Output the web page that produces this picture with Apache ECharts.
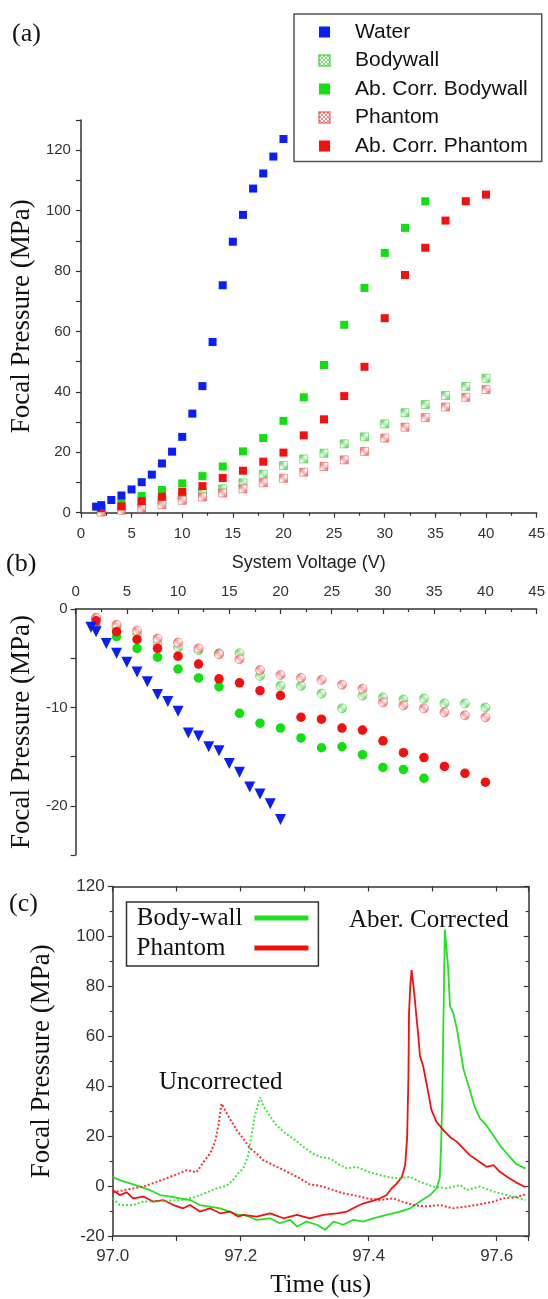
<!DOCTYPE html>
<html>
<head>
<meta charset="utf-8">
<script src="https://cdn.jsdelivr.net/npm/echarts@6/dist/echarts.min.js"></script>
<style>
  html, body { margin: 0; padding: 0; background: #fff; }
  #main { width: 548px; height: 1299px; }
</style>
</head>
<body>
<div id="main"></div>
<script>
const SANS = "'Liberation Sans', Arial, sans-serif"
const SERIF = "'Liberation Serif', 'Times New Roman', serif"

// ---- panel (a): positive focal pressure vs system voltage ----
const voltWater = [1.5, 2, 3, 4, 5, 6, 7, 8, 9, 10, 11, 12, 13, 14, 15, 16, 17, 18, 19, 20]
const voltSteps = [2, 4, 6, 8, 10, 12, 14, 16, 18, 20, 22, 24, 26, 28, 30, 32, 34, 36, 38, 40]
const waterPos = [2.0, 2.5, 4.2, 5.7, 7.7, 10.1, 12.6, 16.3, 20.2, 25.1, 32.8, 41.9, 56.5, 75.3, 89.7, 98.6, 107.3, 112.3, 117.9, 123.7]
const bodywallPos = [0.8, 1.8, 3.0, 4.2, 5.5, 6.8, 7.9, 9.9, 12.8, 15.6, 17.8, 19.7, 22.8, 25.1, 29.4, 33.1, 35.8, 38.8, 41.8, 44.5]
const abBodywallPos = [1.5, 3.2, 5.5, 7.5, 9.7, 12.1, 15.3, 20.3, 24.7, 30.4, 38.2, 48.9, 62.2, 74.4, 86.0, 94.3, 103.1]
const phantomPos = [0.2, 0.8, 1.5, 2.7, 4.1, 5.2, 6.5, 7.9, 9.9, 11.4, 13.4, 15.3, 17.5, 20.3, 24.7, 28.3, 31.5, 35.0, 38.2, 40.8]
const abPhantomPos = [1.5, 2.1, 3.8, 5.3, 6.9, 8.8, 11.5, 13.9, 16.9, 19.9, 25.6, 30.9, 38.6, 48.3, 64.4, 78.7, 87.7, 96.7, 103.1, 105.3]

// ---- panel (b): negative focal pressure ----
const waterNeg = [-1.85, -2.3, -3.5, -4.5, -5.4, -6.4, -7.4, -8.7, -9.4, -10.4, -12.6, -12.9, -14.0, -14.4, -15.7, -16.6, -18.1, -18.8, -19.8, -21.4]
const bodywallNeg = [-0.9, -1.8, -2.6, -3.5, -3.9, -4.2, -4.5, -4.5, -6.8, -7.8, -7.8, -8.6, -10.1, -8.8, -9.0, -9.2, -9.1, -9.6, -9.6, -10.0]
const abBodywallNeg = [-1.8, -2.8, -4.0, -4.9, -6.1, -7.0, -7.9, -10.6, -11.6, -12.1, -13.1, -14.1, -14.0, -14.8, -16.1, -16.3, -17.2]
const phantomNeg = [-0.9, -1.6, -2.2, -3.0, -3.4, -4.0, -4.6, -5.1, -6.2, -6.7, -7.0, -7.2, -7.7, -8.1, -9.5, -9.8, -10.1, -10.5, -10.8, -11.0]
const abPhantomNeg = [-1.2, -2.3, -3.1, -4.0, -4.8, -5.6, -7.1, -7.5, -8.3, -8.8, -11.0, -11.2, -12.1, -12.3, -13.4, -14.6, -15.1, -16.0, -16.7, -17.6]

// ---- panel (c): pressure waveforms (time in us, pressure in MPa) ----
const phantomCorrT = [97.000, 97.011, 97.022, 97.032, 97.048, 97.063, 97.079, 97.095, 97.110, 97.121, 97.136, 97.152, 97.168, 97.183, 97.196, 97.204, 97.225, 97.246, 97.267, 97.288, 97.308, 97.329, 97.350, 97.366, 97.381, 97.392, 97.402, 97.418, 97.428, 97.436, 97.444, 97.452, 97.457, 97.460, 97.462, 97.463, 97.465, 97.467, 97.470, 97.474, 97.478, 97.480, 97.485, 97.493, 97.498, 97.506, 97.517, 97.527, 97.538, 97.548, 97.558, 97.569, 97.584, 97.595, 97.605, 97.616, 97.630, 97.645]
const phantomCorrP = [-1.6, -3.6, -2.5, -4.9, -4.2, -6.2, -5.6, -7.6, -8.9, -7.6, -10.2, -8.9, -10.9, -10.2, -12.2, -11.5, -12.2, -10.9, -12.9, -11.5, -12.9, -11.5, -10.9, -10.2, -8.2, -6.9, -6.2, -4.9, -3.6, -0.9, 1.1, 3.7, 8.4, 19.0, 42.9, 69.5, 80.1, 86.5, 80.1, 69.5, 58.8, 52.2, 48.2, 37.6, 30.5, 25.7, 22.3, 19.7, 17.7, 15.0, 12.4, 10.4, 7.7, 8.4, 5.7, 3.7, 1.5, -0.5]
const bodyCorrT = [97.000, 97.011, 97.027, 97.043, 97.058, 97.074, 97.090, 97.105, 97.121, 97.136, 97.152, 97.168, 97.183, 97.196, 97.204, 97.225, 97.246, 97.261, 97.277, 97.288, 97.303, 97.319, 97.332, 97.345, 97.360, 97.376, 97.392, 97.407, 97.428, 97.449, 97.465, 97.480, 97.496, 97.506, 97.511, 97.513, 97.515, 97.517, 97.519, 97.524, 97.527, 97.532, 97.538, 97.543, 97.548, 97.556, 97.566, 97.574, 97.584, 97.595, 97.605, 97.616, 97.630, 97.645]
const bodyCorrP = [3.7, 2.4, 1.1, -0.2, -1.6, -3.6, -4.2, -4.9, -5.6, -7.6, -8.2, -8.9, -10.2, -11.5, -11.5, -13.5, -12.9, -14.9, -13.5, -16.2, -14.2, -15.5, -17.5, -14.2, -15.5, -13.5, -14.2, -12.9, -11.5, -10.2, -8.9, -6.2, -3.6, -0.9, 3.1, 15.0, 35.0, 70.0, 102.7, 88.0, 72.1, 69.5, 62.8, 54.9, 46.9, 40.2, 31.5, 27.0, 24.3, 20.3, 16.3, 13.0, 9.0, 7.0]
const phantomUncT = [97.000, 97.020, 97.035, 97.048, 97.069, 97.084, 97.100, 97.116, 97.131, 97.142, 97.152, 97.160, 97.165, 97.170, 97.172, 97.183, 97.194, 97.204, 97.215, 97.225, 97.235, 97.251, 97.267, 97.288, 97.308, 97.324, 97.340, 97.360, 97.376, 97.397, 97.418, 97.438, 97.455, 97.470, 97.491, 97.511, 97.532, 97.553, 97.574, 97.595, 97.610, 97.630, 97.645]
const phantomUncP = [-2.5, -1.5, -0.8, -0.2, 1.7, 3.1, 4.7, 6.4, 5.5, 9.7, 13.0, 17.7, 24.3, 33.0, 33.6, 27.0, 22.3, 19.0, 15.0, 13.0, 10.4, 8.4, 6.4, 3.7, 0.7, 0.1, -1.2, -2.9, -3.6, -4.9, -5.6, -4.9, -6.5, -7.6, -8.2, -7.6, -8.9, -8.2, -7.3, -6.2, -4.9, -4.5, -3.3]
const bodyUncT = [97.000, 97.011, 97.032, 97.048, 97.070, 97.090, 97.110, 97.131, 97.147, 97.163, 97.178, 97.188, 97.196, 97.204, 97.212, 97.217, 97.222, 97.229, 97.231, 97.235, 97.243, 97.256, 97.267, 97.282, 97.298, 97.313, 97.324, 97.340, 97.355, 97.366, 97.381, 97.397, 97.407, 97.428, 97.444, 97.465, 97.480, 97.501, 97.522, 97.543, 97.553, 97.574, 97.595, 97.616, 97.630, 97.645]
const bodyUncP = [-4.9, -7.6, -7.6, -6.2, -6.2, -5.8, -5.6, -4.2, -2.5, -0.9, 0.1, 2.4, 5.1, 7.1, 12.4, 20.3, 28.3, 34.3, 35.6, 32.3, 29.0, 24.3, 21.7, 19.0, 15.7, 13.0, 11.7, 11.0, 8.4, 7.1, 7.7, 6.0, 5.1, 3.7, 3.1, 3.7, 1.7, -0.2, -0.9, 0.4, -1.6, -0.2, -2.2, -3.6, -4.5, -5.6]

const BLUE = '#0a1ef5'
const GREEN = '#10e010'
const RED = '#f21010'

function zip(xs, ys) {
  return ys.map((y, i) => [xs[i], y])
}

// light checkered fill for the hatched (uncorrected) markers
function hatch(rgba) {
  const c = document.createElement('canvas')
  c.width = 4
  c.height = 4
  const g = c.getContext('2d')
  g.fillStyle = '#fff'
  g.fillRect(0, 0, 4, 4)
  g.fillStyle = rgba
  g.fillRect(0, 0, 2, 2)
  g.fillRect(2, 2, 2, 2)
  return { image: c, repeat: 'repeat' }
}
const greenHatch = hatch('rgba(30,200,30,0.6)')
const redHatch = hatch('rgba(235,40,40,0.55)')

const axisLine = { onZero: false, lineStyle: { color: '#333', width: 1.5 } }
const tickStyle = { color: '#333', width: 1.2 }
const labelAB = { fontSize: 15, color: '#333', fontFamily: SANS }

function scatter(name, xi, data, symbol, size, color, border) {
  return {
    type: 'scatter', name, xAxisIndex: xi, yAxisIndex: xi, data,
    symbol, symbolSize: size,
    symbolRotate: symbol === 'triangle' ? 180 : 0,
    itemStyle: border
      ? { color, opacity: 1, borderColor: border, borderWidth: 1 }
      : { color, opacity: 1 },
    emphasis: { disabled: true }
  }
}

function wave(name, t, p, color, dotted) {
  return {
    type: 'line', name, xAxisIndex: 2, yAxisIndex: 2,
    data: zip(t, p), showSymbol: false, symbol: 'none',
    itemStyle: { color },
    lineStyle: { color, width: dotted ? 2 : 1.8, type: dotted ? [2, 2] : 'solid', opacity: dotted ? 0.85 : 1 },
    emphasis: { disabled: true }
  }
}

let chart = echarts.init(document.querySelector('#main'), null, { renderer: 'canvas' })

let option = {
  animation: false,
  backgroundColor: '#fff',
  grid: [
    { left: 73.3, top: 120, width: 465, height: 392.7 },
    { left: 73.3, top: 609, width: 465, height: 246 },
    { left: 112.7, top: 886.5, width: 416, height: 351.4 }
  ],
  xAxis: [
    {
      gridIndex: 0, type: 'value', min: 0, max: 45, interval: 5, position: 'bottom',
      axisLine, axisTick: { length: 5, lineStyle: tickStyle },
      minorTick: { show: true, splitNumber: 2, length: 3, lineStyle: tickStyle },
      splitLine: { show: false },
      axisLabel: { ...labelAB, margin: 14 },
      name: 'System Voltage (V)', nameLocation: 'middle', nameGap: 41,
      nameTextStyle: { fontSize: 18, fontFamily: SANS, color: '#222' }
    },
    {
      gridIndex: 1, type: 'value', min: 0, max: 45, interval: 5, position: 'top',
      axisLine, axisTick: { inside: true, length: 5, lineStyle: tickStyle },
      minorTick: { show: true, splitNumber: 2, length: 3, lineStyle: tickStyle },
      splitLine: { show: false },
      axisLabel: { ...labelAB, margin: 10 }
    },
    {
      gridIndex: 2, type: 'value', min: 97.0, max: 97.65, interval: 0.1, position: 'bottom',
      axisLine, axisTick: { length: 5, lineStyle: tickStyle },
      splitLine: { show: false },
      axisLabel: {
        fontSize: 17, color: '#333', fontFamily: SANS, margin: 12,
        formatter: v => (Math.round(v * 10) % 2 === 0 ? v.toFixed(1) : '')
      },
      name: 'Time (us)', nameLocation: 'middle', nameGap: 36,
      nameTextStyle: { fontSize: 26, fontFamily: SERIF, color: '#111' }
    },
    {
      gridIndex: 2, type: 'value', min: 97.0, max: 97.65, interval: 0.1, position: 'top',
      axisLine, axisTick: { inside: true, length: 5, lineStyle: tickStyle },
      splitLine: { show: false }, axisLabel: { show: false }
    }
  ],
  yAxis: [
    {
      gridIndex: 0, type: 'value', min: 0, max: 130, interval: 10,
      axisLine: { show: true, ...axisLine }, axisTick: { show: true, length: 5, lineStyle: tickStyle },
      splitLine: { show: false },
      axisLabel: { ...labelAB, margin: 10, formatter: v => (v % 20 === 0 ? v : '') },
      name: 'Focal Pressure (MPa)', nameLocation: 'middle', nameGap: 38,
      nameTextStyle: { fontSize: 27, fontFamily: SERIF, color: '#111' }
    },
    {
      gridIndex: 1, type: 'value', min: -25, max: 0, interval: 5,
      axisLine: { show: true, ...axisLine }, axisTick: { show: true, length: 5, lineStyle: tickStyle },
      splitLine: { show: false },
      axisLabel: { ...labelAB, margin: 8, formatter: v => (v % 10 === 0 ? v : '') },
      name: 'Focal Pressure (MPa)', nameLocation: 'middle', nameGap: 38,
      nameTextStyle: { fontSize: 27, fontFamily: SERIF, color: '#111' }
    },
    {
      gridIndex: 2, type: 'value', min: -20, max: 120, interval: 20,
      axisLine: { show: true, ...axisLine }, axisTick: { show: true, length: 5, lineStyle: tickStyle },
      minorTick: { show: true, splitNumber: 2, length: 3, lineStyle: tickStyle },
      splitLine: { show: false },
      axisLabel: { fontSize: 17, color: '#333', fontFamily: SANS, margin: 8 },
      name: 'Focal Pressure (MPa)', nameLocation: 'middle', nameGap: 57,
      nameTextStyle: { fontSize: 27, fontFamily: SERIF, color: '#111' }
    },
    {
      gridIndex: 2, type: 'value', min: -20, max: 120, interval: 20, position: 'right',
      axisLine: { show: true, ...axisLine }, axisTick: { show: true, inside: true, length: 5, lineStyle: tickStyle },
      minorTick: { show: true, splitNumber: 2, length: 3, lineStyle: tickStyle },
      splitLine: { show: false }, axisLabel: { show: false }
    }
  ],
  legend: [
    {
      data: ['Water', 'Bodywall', 'Ab. Corr. Bodywall', 'Phantom', 'Ab. Corr. Phantom']
        .map(name => ({ name, icon: 'rect' })),
      orient: 'vertical', left: 294, top: 14,
      padding: [7.5, 14, 5, 24], itemGap: 7.5, itemWidth: 11, itemHeight: 11,
      textStyle: { fontSize: 21, lineHeight: 21, fontFamily: SANS, color: '#111', padding: [0, 0, 0, 20] },
      borderColor: '#555', borderWidth: 1.5, backgroundColor: '#fff', selectedMode: false
    },
    {
      data: [
        { name: 'Body-wall', textStyle: { padding: [0, 7, 0, 0] } },
        { name: 'Phantom (c)', textStyle: { padding: [0, 24, 0, 0] } }
      ],
      formatter: name => name.replace(' (c)', ''),
      orient: 'vertical', left: 126.5, top: 902, align: 'right', icon: 'rect',
      padding: [3.5, 10, 5.5, 10], itemGap: 5, itemWidth: 54, itemHeight: 5,
      textStyle: { fontSize: 25, lineHeight: 25, fontFamily: SERIF, color: '#111' },
      borderColor: '#333', borderWidth: 1.5, backgroundColor: '#fff', selectedMode: false
    }
  ],
  graphic: [
    { type: 'text', left: 12, top: 21, style: { text: '(a)', font: '26px ' + SERIF, fill: '#111' } },
    { type: 'text', left: 6, top: 551, style: { text: '(b)', font: '26px ' + SERIF, fill: '#111' } },
    { type: 'text', left: 9, top: 891, style: { text: '(c)', font: '26px ' + SERIF, fill: '#111' } },
    { type: 'text', left: 349, top: 908, style: { text: 'Aber. Corrected', font: '25px ' + SERIF, fill: '#111' } },
    { type: 'text', left: 159, top: 1070, style: { text: 'Uncorrected', font: '25px ' + SERIF, fill: '#111' } }
  ],
  series: [
    // panel (a)
    scatter('Bodywall', 0, zip(voltSteps, bodywallPos), 'rect', 8, greenHatch, 'rgba(30,200,30,0.5)'),
    scatter('Phantom', 0, zip(voltSteps, phantomPos), 'rect', 8, redHatch, 'rgba(235,40,40,0.45)'),
    scatter('Ab. Corr. Bodywall', 0, zip(voltSteps, abBodywallPos), 'rect', 8, GREEN),
    scatter('Ab. Corr. Phantom', 0, zip(voltSteps, abPhantomPos), 'rect', 8, RED),
    scatter('Water', 0, zip(voltWater, waterPos), 'rect', 8, BLUE),
    // panel (b)
    scatter('Bodywall', 1, zip(voltSteps, bodywallNeg), 'circle', 9, greenHatch, 'rgba(30,200,30,0.5)'),
    scatter('Phantom', 1, zip(voltSteps, phantomNeg), 'circle', 9, redHatch, 'rgba(235,40,40,0.45)'),
    scatter('Ab. Corr. Bodywall', 1, zip(voltSteps, abBodywallNeg), 'circle', 9.5, GREEN),
    scatter('Ab. Corr. Phantom', 1, zip(voltSteps, abPhantomNeg), 'circle', 9.5, RED),
    scatter('Water', 1, zip(voltWater, waterNeg), 'triangle', 11, BLUE),
    // panel (c)
    wave('Body-wall', bodyCorrT, bodyCorrP, '#22e022', false),
    wave('Phantom (c)', phantomCorrT, phantomCorrP, RED, false),
    wave('Body-wall', bodyUncT, bodyUncP, '#22e022', true),
    wave('Phantom (c)', phantomUncT, phantomUncP, RED, true)
  ]
}
chart.setOption(option)
</script>
</body>
</html>
